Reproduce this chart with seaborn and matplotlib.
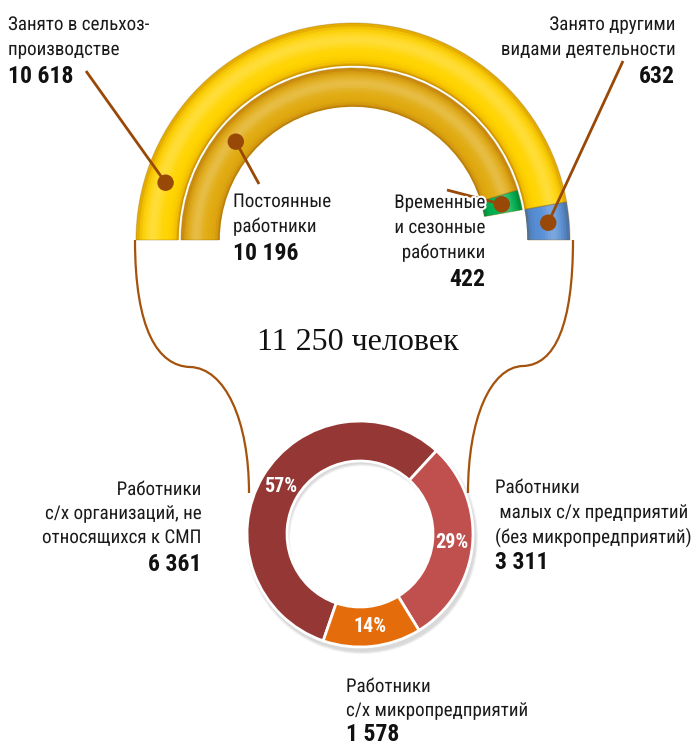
import numpy as np
import matplotlib
matplotlib.use("Agg")
import matplotlib.pyplot as plt
import matplotlib.font_manager as fm
import matplotlib.patheffects as pe
from matplotlib.path import Path
from matplotlib.patches import PathPatch, Circle
from matplotlib.colors import to_rgb
import seaborn as sns

# ---------------- data ----------------
total_people = 11250
total_label = "11 250 человек"

outer_labels = ["Занято в сельхоз-\nпроизводстве", "Занято другими\nвидами деятельности"]
outer_values = [10618, 632]
outer_colors = ["#FFD400", "#558ED5"]

inner_labels = ["Постоянные\nработники", "Временные\nи сезонные\nработники"]
inner_values = [10196, 422]
inner_colors = ["#E0AA10", "#00B050"]

bottom_labels = ["Работники\nс/х организаций, не\nотносящихся к СМП",
                 "Работники\n малых с/х предприятий\n(без микропредприятий)",
                 "Работники\nс/х микропредприятий"]
bottom_values = [6361, 3311, 1578]
bottom_colors = ["#953735", "#C0504D", "#E46C0A"]

# ---------------- style / fonts ----------------
sns.set_theme(style="white")
SANS, STRETCH = None, "normal"
ttf = fm.fontManager.ttflist
names = {f.name for f in ttf}
for cand in ["Liberation Sans Narrow", "Arial Narrow", "Roboto Condensed",
             "Open Sans Condensed", "Noto Sans Condensed", "DejaVu Sans Condensed"]:
    if cand in names:
        SANS = [cand, "DejaVu Sans"]
        break
if SANS is None:
    cond = [f for f in ttf if f.stretch in ("condensed", "semi-condensed")
            and f.name in ("DejaVu Sans", "Noto Sans", "Open Sans", "Roboto", "Liberation Sans")]
    if cond:
        SANS = [cond[0].name, "DejaVu Sans"]
        STRETCH = cond[0].stretch
    else:
        SANS = ["Liberation Sans", "DejaVu Sans"]
plt.rcParams["font.family"] = SANS
SERIF = ["Liberation Serif", "DejaVu Serif"]

W, H = 697, 748
fig = plt.figure(figsize=(W / 100, H / 100), dpi=100)
ax = fig.add_axes([0, 0, 1, 1])
ax.set_xlim(0, W)
ax.set_ylim(0, H)
renderer = fig.canvas.get_renderer()


def measure(s, size, weight="normal"):
    t = fig.text(0, 0, s, fontsize=size, fontweight=weight, family=SANS, stretch=STRETCH)
    w = t.get_window_extent(renderer).width
    t.remove()
    return w


# fit sizes so that text widths match the reference
FS = min(14.0, 14.0 * 197.0 / measure("(без микропредприятий)", 14))
FSB = min(17.0, 17.0 * 66.0 / measure("10 618", 17, "bold"))
FSP = min(14.5, 14.0 * 34.0 / measure("57%", 14, "bold"))


def Y(y):
    return H - y


def fmt(v):
    return f"{v:,}".replace(",", " ")


LEAD = "#984807"
HALO = [pe.withStroke(linewidth=3, foreground="white")]

# ---------------- top semicircle rings ----------------
cx, cy = 353, Y(240)
R_out, w_out = 217, 42
R_in, w_in = 172, 38


def shade(base, t, dk=0.30):
    r = np.array(to_rgb(base))
    darkcol = r * np.array([0.80, 0.62, 0.55])
    dark = (1 - np.sin(np.pi * t)) ** 3 * dk
    light = np.exp(-((t - 0.62) / 0.18) ** 2) * 0.22
    c = r * (1 - dark) + darkcol * dark
    c = c + (1 - c) * light
    return tuple(np.clip(c, 0, 1))


def tube_ring(values, colors, hidden, R, width, n=16, dk=0.30):
    vals = list(values) + [hidden]
    for k in range(n):
        t = (k + 0.5) / n
        rr = R - width + (k + 1) * width / n
        cols = [shade(c, t, dk * 2.2) for c in colors] + [(1, 1, 1, 0)]
        wedges, _ = ax.pie(vals, radius=rr, center=(cx, cy), startangle=180,
                           counterclock=False, colors=cols,
                           wedgeprops=dict(width=width / n + 0.8, linewidth=0))
        wedges[-1].set_visible(False)
    wedges, _ = ax.pie(vals, radius=R, center=(cx, cy), startangle=180,
                       counterclock=False, colors=["none"] * len(vals),
                       wedgeprops=dict(width=width, linewidth=0.8,
                                       edgecolor=(0.55, 0.38, 0.0, 0.30)))
    wedges[-1].set_visible(False)


tube_ring(outer_values, outer_colors, total_people, R_out, w_out)
inner_hidden = total_people - sum(inner_values) + total_people
tube_ring(inner_values, inner_colors, inner_hidden, R_in, w_in)


def seg_mid_angle(values, idx):
    start = 180 - 180 * sum(values[:idx]) / total_people
    end = 180 - 180 * sum(values[:idx + 1]) / total_people
    return np.deg2rad((start + end) / 2)


def ring_point(ang, r):
    return cx + r * np.cos(ang), cy + r * np.sin(ang)


dot_pts = [
    (ring_point(np.deg2rad(163), R_out - w_out / 2), (86, Y(71))),
    (ring_point(np.deg2rad(140), R_in - w_in / 2), (259, Y(184))),
    (ring_point(seg_mid_angle(inner_values, 1), R_in - w_in / 2), (447, Y(190))),
    (ring_point(seg_mid_angle(outer_values, 1), R_out - w_out / 2), (623, Y(61))),
]
for (dx, dy), (lx, ly) in dot_pts:
    ax.plot([dx, lx], [dy, ly], color=LEAD, lw=2, solid_capstyle="butt", zorder=5)
    ax.add_patch(Circle((dx, dy), 7.5, color=LEAD, zorder=6))

# ---------------- connecting curves ----------------
curves = [
    [(135, 240), (135, 330), (158, 366), (190, 367), (225, 368), (249, 420), (249, 493)],
    [(573, 240), (573, 325), (555, 365), (523, 366), (490, 367), (468, 420), (468, 493)],
]
for pts in curves:
    verts = [(x, Y(y)) for x, y in pts]
    codes = [Path.MOVETO] + [Path.CURVE4] * 6
    ax.add_patch(PathPatch(Path(verts, codes), fill=False, edgecolor="#A4520C", lw=1.6, zorder=2))

# ---------------- bottom donut ----------------
bx, by = 360, Y(534)
bR, bw = 113, 40
for i in range(3):
    ax.pie([1], radius=bR + 1 + i, center=(bx + 2, by - 4), colors=[(0, 0, 0, 0.05)],
           wedgeprops=dict(width=bw + 2 * i, linewidth=0))
wedges, _, autotexts = ax.pie(
    bottom_values, radius=bR, center=(bx, by), startangle=-109, counterclock=False,
    colors=bottom_colors, autopct="%.0f%%", pctdistance=0.82,
    wedgeprops=dict(width=bw, edgecolor="white", linewidth=2),
    textprops=dict(color="white", fontsize=FSP, fontweight="bold",
                   family=SANS, stretch=STRETCH))
for t in autotexts:
    t.set_zorder(4)

# ---------------- texts ----------------


def label(x, y0, text, value, ha, step=25, vstep=28):
    lines = text.split("\n")
    for i, ln in enumerate(lines):
        ax.text(x, Y(y0 + i * step), ln, ha=ha, va="baseline", fontsize=FS,
                color="#1a1a1a", family=SANS, stretch=STRETCH, zorder=7,
                path_effects=HALO)
    yb = y0 + (len(lines) - 1) * step + vstep
    ax.text(x, Y(yb), fmt(value), ha=ha, va="baseline", fontsize=FSB, fontweight="bold",
            color="#111111", family=SANS, stretch=STRETCH, zorder=7)


label(8, 30, outer_labels[0], outer_values[0], "left")
label(675, 30, outer_labels[1], outer_values[1], "right")
label(233, 207, inner_labels[0], inner_values[0], "left")
label(485, 208, inner_labels[1], inner_values[1], "right")
label(201, 495, bottom_labels[0], bottom_values[0], "right", step=24)
label(495, 493, bottom_labels[1], bottom_values[1], "left", step=25, vstep=26)
label(346, 692, bottom_labels[2], bottom_values[2], "left", step=24, vstep=25)

ax.text(358, Y(350), total_label, ha="center", va="baseline", fontsize=23,
        family=SERIF, color="#111111")

ax.set_xlim(0, W)
ax.set_ylim(0, H)
ax.set_aspect("auto")
ax.axis("off")
fig.savefig("out.png", dpi=100, facecolor="white")
